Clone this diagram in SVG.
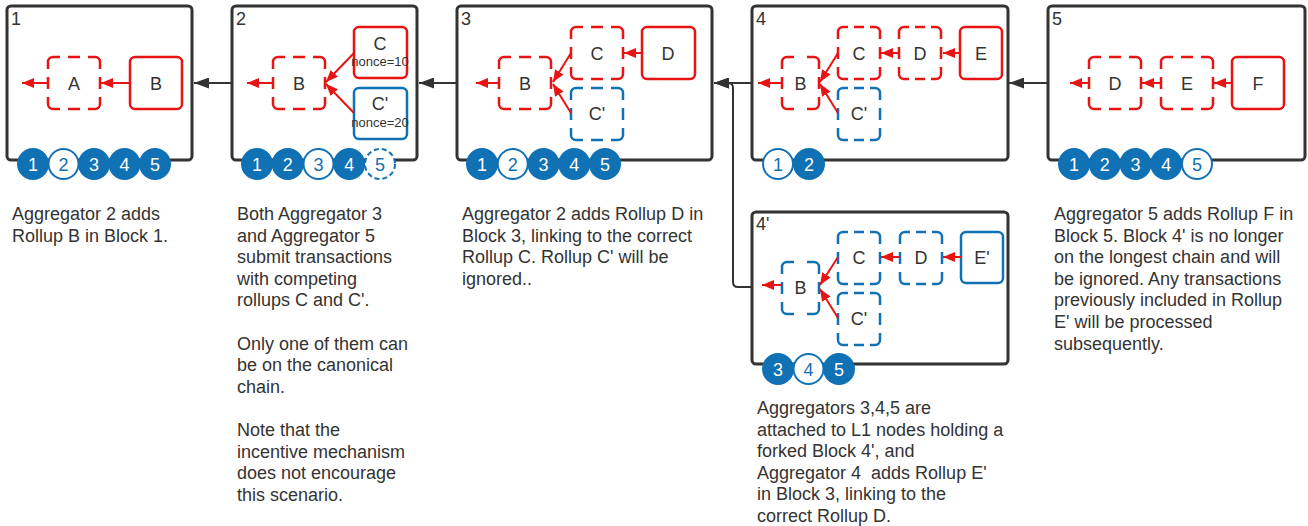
<svg xmlns="http://www.w3.org/2000/svg" xmlns:xlink="http://www.w3.org/1999/xlink" width="1308" height="526" viewBox="0 0 1308 526">
<style>
text{font-family:"Liberation Sans",Arial,sans-serif;fill:#333333}
.blk{fill:#ffffff;stroke:#333333;stroke-width:3}
.bl{font-size:18px}
.nt{font-size:18px;text-anchor:middle}
.nc{font-size:13px;text-anchor:middle}
.sr{fill:#ffffff;stroke:#e81313;stroke-width:2.5}
.sb{fill:#ffffff;stroke:#1071b5;stroke-width:2.5}
.dr{fill:none;stroke:#e81313;stroke-width:2.5}
.db{fill:none;stroke:#1071b5;stroke-width:2.5}
.ra{fill:none;stroke:#e81313;stroke-width:2}
.con{fill:none;stroke:#333333;stroke-width:2}
.cf{fill:#1071b5;stroke:#1071b5;stroke-width:2}
.ch{fill:#ffffff;stroke:#1071b5;stroke-width:2}
.chd{fill:#ffffff;stroke:#1071b5;stroke-width:2;stroke-dasharray:5 3}
.cwt{font-size:18px;text-anchor:middle;fill:#ffffff}
.cbt{font-size:18px;text-anchor:middle;fill:#1071b5}
.desc{font-size:18px}
</style>
<defs>
<marker id="ar" viewBox="0 0 12 10" refX="12" refY="5" markerWidth="12" markerHeight="10" markerUnits="userSpaceOnUse" orient="auto">
<path d="M0,0 L12,5 L0,10 z" fill="#e81313"/>
</marker>
<marker id="ak" viewBox="0 0 15 11" refX="15" refY="5.5" markerWidth="15" markerHeight="11" markerUnits="userSpaceOnUse" orient="auto">
<path d="M0,0 L15,5.5 L0,11 z" fill="#333333"/>
</marker>
<path id="dS" d="M0,12 V5 A5,5 0 0 1 5,0 H12 M40,0 H47 A5,5 0 0 1 52,5 V12 M52,40 V47 A5,5 0 0 1 47,52 H40 M12,52 H5 A5,5 0 0 1 0,47 V40 M20,0 H32 M20,52 H32 M0,20 V32 M52,20 V32"/>
<path id="dB" d="M0,12 V5 A5,5 0 0 1 5,0 H12 M25,0 H32 A5,5 0 0 1 37,5 V12 M37,40 V47 A5,5 0 0 1 32,52 H25 M12,52 H5 A5,5 0 0 1 0,47 V40 M0,20 V32 M37,20 V32"/>
<path id="dN" d="M0,12 V5 A5,5 0 0 1 5,0 H10 M32,0 H37 A5,5 0 0 1 42,5 V12 M42,40 V47 A5,5 0 0 1 37,52 H32 M10,52 H5 A5,5 0 0 1 0,47 V40 M16,0 H26 M16,52 H26 M0,20 V32 M42,20 V32"/>
</defs>
<rect width="1308" height="526" fill="#ffffff"/>

<g id="connectors">
<path class="con" d="M232,83 H194" marker-end="url(#ak)"/>
<path class="con" d="M457,83 H419" marker-end="url(#ak)"/>
<path class="con" d="M752,83 H714" marker-end="url(#ak)"/>
<path class="con" d="M752,287 H738 Q733,287 733,282 V88 Q733,83 728,83 H714" marker-end="url(#ak)"/>
<path class="con" d="M1048,83 H1009" marker-end="url(#ak)"/>
</g>

<g id="block1">
<rect class="blk" x="7" y="6" width="185" height="154" rx="4"/>
<text class="bl" x="11" y="25">1</text>
<use href="#dS" class="dr" x="48" y="57"/>
<text class="nt" x="74" y="89.5">A</text>
<rect class="sr" x="130" y="57" width="52" height="52" rx="5"/>
<text class="nt" x="156" y="89.5">B</text>
<path class="ra" d="M130,83 H101" marker-end="url(#ar)"/>
<path class="ra" d="M48,83 H22" marker-end="url(#ar)"/>
<circle class="cf" cx="33" cy="164" r="15"/><text class="cwt" x="33" y="170.5">1</text>
<circle class="ch" cx="63.5" cy="164" r="15"/><text class="cbt" x="63.5" y="170.5">2</text>
<circle class="cf" cx="94" cy="164" r="15"/><text class="cwt" x="94" y="170.5">3</text>
<circle class="cf" cx="124.5" cy="164" r="15"/><text class="cwt" x="124.5" y="170.5">4</text>
<circle class="cf" cx="155" cy="164" r="15"/><text class="cwt" x="155" y="170.5">5</text>
</g>

<g id="block2">
<rect class="blk" x="232" y="6" width="185" height="154" rx="4"/>
<text class="bl" x="236" y="25">2</text>
<use href="#dS" class="dr" x="273" y="57"/>
<text class="nt" x="299" y="89.5">B</text>
<rect class="sr" x="354" y="27" width="53" height="51" rx="5"/>
<text class="nt" x="380" y="50">C</text>
<text class="nc" x="380" y="66">nonce=10</text>
<rect class="sb" x="354" y="88" width="53" height="51" rx="5"/>
<text class="nt" x="380" y="110">C'</text>
<text class="nc" x="380" y="127">nonce=20</text>
<path class="ra" d="M354,53 L326,82" marker-end="url(#ar)"/>
<path class="ra" d="M354,113 L326,84" marker-end="url(#ar)"/>
<path class="ra" d="M273,83 H247" marker-end="url(#ar)"/>
<circle class="cf" cx="257" cy="164" r="15"/><text class="cwt" x="257" y="170.5">1</text>
<circle class="cf" cx="287.75" cy="164" r="15"/><text class="cwt" x="287.75" y="170.5">2</text>
<circle class="ch" cx="318.5" cy="164" r="15"/><text class="cbt" x="318.5" y="170.5">3</text>
<circle class="cf" cx="349.25" cy="164" r="15"/><text class="cwt" x="349.25" y="170.5">4</text>
<circle class="chd" cx="380" cy="164" r="15"/><text class="cbt" x="380" y="170.5">5</text>
</g>

<g id="block3">
<rect class="blk" x="457" y="6" width="255" height="154" rx="4"/>
<text class="bl" x="461" y="25">3</text>
<use href="#dS" class="dr" x="499" y="57"/>
<text class="nt" x="525" y="89.5">B</text>
<use href="#dS" class="dr" x="571" y="27"/>
<text class="nt" x="597" y="59.5">C</text>
<rect class="sr" x="642" y="27" width="53" height="52" rx="5"/>
<text class="nt" x="668" y="59.5">D</text>
<use href="#dS" class="db" x="571" y="88"/>
<text class="nt" x="597" y="120">C'</text>
<path class="ra" d="M642,53 H624" marker-end="url(#ar)"/>
<path class="ra" d="M571,53 L553,82" marker-end="url(#ar)"/>
<path class="ra" d="M571,113 L553,84" marker-end="url(#ar)"/>
<path class="ra" d="M499,83 H476" marker-end="url(#ar)"/>
<circle class="cf" cx="482" cy="164" r="15"/><text class="cwt" x="482" y="170.5">1</text>
<circle class="ch" cx="512.75" cy="164" r="15"/><text class="cbt" x="512.75" y="170.5">2</text>
<circle class="cf" cx="543.5" cy="164" r="15"/><text class="cwt" x="543.5" y="170.5">3</text>
<circle class="cf" cx="574.25" cy="164" r="15"/><text class="cwt" x="574.25" y="170.5">4</text>
<circle class="cf" cx="605" cy="164" r="15"/><text class="cwt" x="605" y="170.5">5</text>
</g>

<g id="block4">
<rect class="blk" x="752" y="6" width="256" height="154" rx="4"/>
<text class="bl" x="756" y="25">4</text>
<use href="#dB" class="dr" x="782" y="57"/>
<text class="nt" x="800.5" y="89.5">B</text>
<use href="#dN" class="dr" x="838" y="27"/>
<text class="nt" x="859" y="59.5">C</text>
<use href="#dN" class="dr" x="899" y="27"/>
<text class="nt" x="920" y="59.5">D</text>
<rect class="sr" x="960" y="27" width="42" height="52" rx="5"/>
<text class="nt" x="981" y="59.5">E</text>
<use href="#dN" class="db" x="838" y="88"/>
<text class="nt" x="859" y="120">C'</text>
<path class="ra" d="M960,53 H943" marker-end="url(#ar)"/>
<path class="ra" d="M899,53 H881" marker-end="url(#ar)"/>
<path class="ra" d="M838,53 L820,82" marker-end="url(#ar)"/>
<path class="ra" d="M838,113 L820,84" marker-end="url(#ar)"/>
<path class="ra" d="M782,83 H758" marker-end="url(#ar)"/>
<circle class="ch" cx="778" cy="164" r="15"/><text class="cbt" x="778" y="170.5">1</text>
<circle class="cf" cx="809" cy="164" r="15"/><text class="cwt" x="809" y="170.5">2</text>
</g>

<g id="block5">
<rect class="blk" x="1048" y="6" width="257" height="154" rx="4"/>
<text class="bl" x="1052" y="25">5</text>
<use href="#dS" class="dr" x="1089" y="57"/>
<text class="nt" x="1115" y="89.5">D</text>
<use href="#dS" class="dr" x="1161" y="57"/>
<text class="nt" x="1187" y="89.5">E</text>
<rect class="sr" x="1232" y="57" width="52" height="52" rx="5"/>
<text class="nt" x="1258" y="89.5">F</text>
<path class="ra" d="M1232,83 H1214" marker-end="url(#ar)"/>
<path class="ra" d="M1161,83 H1142" marker-end="url(#ar)"/>
<path class="ra" d="M1089,83 H1070" marker-end="url(#ar)"/>
<circle class="cf" cx="1074" cy="164" r="15"/><text class="cwt" x="1074" y="170.5">1</text>
<circle class="cf" cx="1104.75" cy="164" r="15"/><text class="cwt" x="1104.75" y="170.5">2</text>
<circle class="cf" cx="1135.5" cy="164" r="15"/><text class="cwt" x="1135.5" y="170.5">3</text>
<circle class="cf" cx="1166.25" cy="164" r="15"/><text class="cwt" x="1166.25" y="170.5">4</text>
<circle class="ch" cx="1197" cy="164" r="15"/><text class="cbt" x="1197" y="170.5">5</text>
</g>

<g id="block4p">
<rect class="blk" x="752" y="212" width="256" height="152" rx="4"/>
<text class="bl" x="756" y="230">4'</text>
<use href="#dB" class="db" x="782" y="262"/>
<text class="nt" x="800.5" y="294">B</text>
<use href="#dN" class="db" x="838" y="232"/>
<text class="nt" x="859" y="264">C</text>
<use href="#dN" class="db" x="900" y="232"/>
<text class="nt" x="921" y="264">D</text>
<rect class="sb" x="961" y="232" width="42" height="51" rx="5"/>
<text class="nt" x="982" y="264">E'</text>
<use href="#dN" class="db" x="838" y="293"/>
<text class="nt" x="859" y="325">C'</text>
<path class="ra" d="M961,257 H943" marker-end="url(#ar)"/>
<path class="ra" d="M900,257 H881" marker-end="url(#ar)"/>
<path class="ra" d="M838,257 L820,285" marker-end="url(#ar)"/>
<path class="ra" d="M838,318 L820,289" marker-end="url(#ar)"/>
<path class="ra" d="M782,285 H762" marker-end="url(#ar)"/>
<circle class="cf" cx="778" cy="369" r="15"/><text class="cwt" x="778" y="375.5">3</text>
<circle class="ch" cx="808.5" cy="369" r="15"/><text class="cbt" x="808.5" y="375.5">4</text>
<circle class="cf" cx="839" cy="369" r="15"/><text class="cwt" x="839" y="375.5">5</text>
</g>

<g id="text1">
<text class="desc" x="12" y="220">Aggregator 2 adds</text>
<text class="desc" x="12" y="241.6">Rollup B in Block 1.</text>
</g>
<g id="text2">
<text class="desc" x="237" y="220">Both Aggregator 3</text>
<text class="desc" x="237" y="241.6">and Aggregator 5</text>
<text class="desc" x="237" y="263.2">submit transactions</text>
<text class="desc" x="237" y="284.8">with competing</text>
<text class="desc" x="237" y="306.4">rollups C and C'.</text>
<text class="desc" x="237" y="349.6">Only one of them can</text>
<text class="desc" x="237" y="371.2">be on the canonical</text>
<text class="desc" x="237" y="392.8">chain.</text>
<text class="desc" x="237" y="436">Note that the</text>
<text class="desc" x="237" y="457.6">incentive mechanism</text>
<text class="desc" x="237" y="479.2">does not encourage</text>
<text class="desc" x="237" y="500.8">this scenario.</text>
</g>
<g id="text3">
<text class="desc" x="462" y="220">Aggregator 2 adds Rollup D in</text>
<text class="desc" x="462" y="241.6">Block 3, linking to the correct</text>
<text class="desc" x="462" y="263.2">Rollup C. Rollup C' will be</text>
<text class="desc" x="462" y="284.8">ignored..</text>
</g>
<g id="text4p">
<text class="desc" x="757" y="414">Aggregators 3,4,5 are</text>
<text class="desc" x="757" y="435.6">attached to L1 nodes holding a</text>
<text class="desc" x="757" y="457.2">forked Block 4', and</text>
<text class="desc" x="757" y="478.8" xml:space="preserve">Aggregator 4  adds Rollup E'</text>
<text class="desc" x="757" y="500.4">in Block 3, linking to the</text>
<text class="desc" x="757" y="522">correct Rollup D.</text>
</g>
<g id="text5">
<text class="desc" x="1054" y="220">Aggregator 5 adds Rollup F in</text>
<text class="desc" x="1054" y="241.6">Block 5. Block 4' is no longer</text>
<text class="desc" x="1054" y="263.2">on the longest chain and will</text>
<text class="desc" x="1054" y="284.8">be ignored. Any transactions</text>
<text class="desc" x="1054" y="306.4">previously included in Rollup</text>
<text class="desc" x="1054" y="328">E' will be processed</text>
<text class="desc" x="1054" y="349.6">subsequently.</text>
</g>
</svg>
